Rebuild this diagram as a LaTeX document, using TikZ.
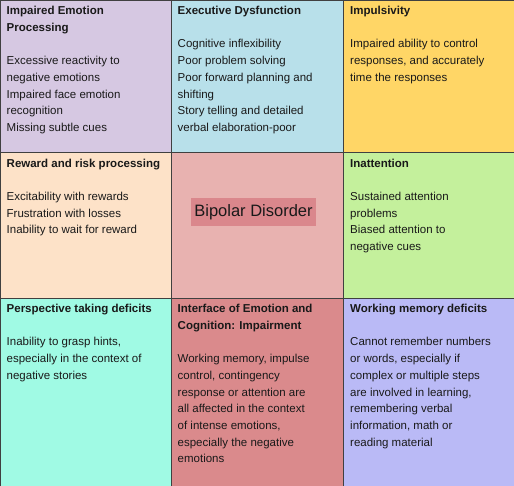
\documentclass[tikz,border=0pt]{standalone}
\usepackage{fontspec}
\setmainfont{Liberation Sans}
\definecolor{cA}{HTML}{D6C8E2}
\definecolor{cB}{HTML}{B8E0EA}
\definecolor{cC}{HTML}{FFD666}
\definecolor{cD}{HTML}{FDE2C8}
\definecolor{cE}{HTML}{E8B2B0}
\definecolor{cF}{HTML}{C4F09C}
\definecolor{cG}{HTML}{A0FAE4}
\definecolor{cH}{HTML}{DA8A8C}
\definecolor{cI}{HTML}{BABAF6}
\definecolor{cLabel}{HTML}{DA878C}
\begin{document}
\begin{tikzpicture}[x=1bp,y=-1bp,
  cell/.style={draw=black!75, line width=0.8bp, anchor=north west, inner sep=0pt, outer sep=0pt},
  celltext/.style={anchor=north west, inner sep=0pt, align=left, text=black!90,
    font=\fontsize{11.5bp}{16.7bp}\selectfont}]
\useasboundingbox (0,0) rectangle (514,486);
% row 1
\node[cell, fill=cA, minimum width=171bp, minimum height=152.5bp] (c11) at (0,0) {};
\node[cell, fill=cB, minimum width=172.5bp, minimum height=152.5bp] (c12) at (171,0) {};
\node[cell, fill=cC, minimum width=170.5bp, minimum height=152.5bp] (c13) at (343.5,0) {};
% row 2
\node[cell, fill=cD, minimum width=171bp, minimum height=145.5bp] (c21) at (0,152.5) {};
\node[cell, fill=cE, minimum width=172.5bp, minimum height=145.5bp] (c22) at (171,152.5) {};
\node[cell, fill=cF, minimum width=170.5bp, minimum height=145.5bp] (c23) at (343.5,152.5) {};
% row 3
\node[cell, fill=cG, minimum width=171bp, minimum height=188bp] (c31) at (0,298) {};
\node[cell, fill=cH, minimum width=172.5bp, minimum height=188bp] (c32) at (171,298) {};
\node[cell, fill=cI, minimum width=170.5bp, minimum height=188bp] (c33) at (343.5,298) {};

\node[celltext] (t11) at ([xshift=6.5bp,yshift=-6bp]c11.north west)
  {\textbf{Impaired Emotion}\\\textbf{Processing}\\[16.7bp]
   Excessive reactivity to\\negative emotions\\Impaired face emotion\\recognition\\Missing subtle cues};
\node[celltext] (t12) at ([xshift=6.5bp,yshift=-6bp]c12.north west)
  {\textbf{Executive Dysfunction}\\[16.7bp]
   Cognitive inflexibility\\Poor problem solving\\Poor forward planning and\\shifting\\Story telling and detailed\\verbal elaboration-poor};
\node[celltext] (t13) at ([xshift=6.5bp,yshift=-6bp]c13.north west)
  {\textbf{Impulsivity}\\[16.7bp]
   Impaired ability to control\\responses, and accurately\\time the responses};
\node[celltext] (t21) at ([xshift=6.5bp,yshift=-6bp]c21.north west)
  {\textbf{Reward and risk processing}\\[16.7bp]
   Excitability with rewards\\Frustration with losses\\Inability to wait for reward};
\node[celltext] (t23) at ([xshift=6.5bp,yshift=-6bp]c23.north west)
  {\textbf{Inattention}\\[16.7bp]
   Sustained attention\\problems\\Biased attention to\\negative cues};
\node[celltext] (t31) at ([xshift=6.5bp,yshift=-6bp]c31.north west)
  {\textbf{Perspective taking deficits}\\[16.7bp]
   Inability to grasp hints,\\especially in the context of\\negative stories};
\node[celltext] (t32) at ([xshift=6.5bp,yshift=-6bp]c32.north west)
  {\textbf{Interface of Emotion and}\\\textbf{Cognition: Impairment}\\[16.7bp]
   Working memory, impulse\\control, contingency\\response or attention are\\all affected in the context\\of intense emotions,\\especially the negative\\emotions};
\node[celltext] (t33) at ([xshift=6.5bp,yshift=-6bp]c33.north west)
  {\textbf{Working memory deficits}\\[16.7bp]
   Cannot remember numbers\\or words, especially if\\complex or multiple steps\\are involved in learning,\\remembering verbal\\information, math or\\reading material};

\node[fill=cLabel, inner xsep=3bp, inner ysep=0pt, minimum height=28bp, text=black!90,
  font=\fontsize{16.5bp}{20bp}\selectfont] (bd) at (253.5,212) {Bipolar Disorder};
\end{tikzpicture}
\end{document}
